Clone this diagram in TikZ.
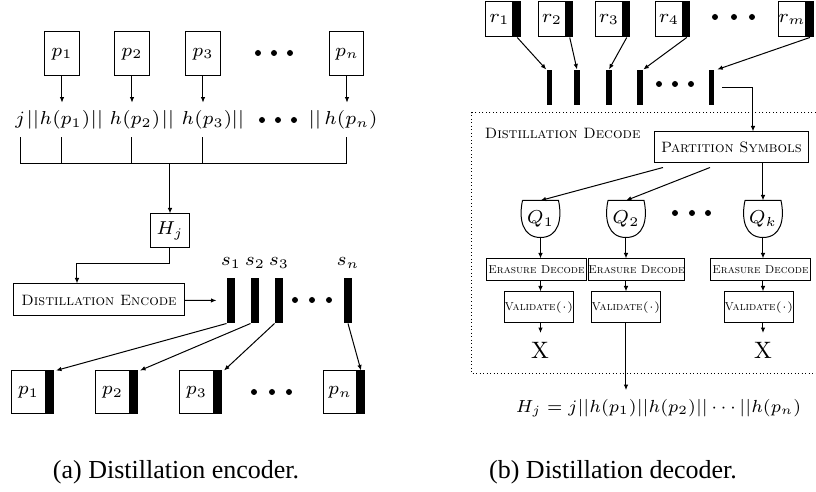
\RequirePackage{fix-cm}
\documentclass[tikz,border=0pt]{standalone}
\usepackage{fontspec}
\newfontfamily\capfont{Liberation Serif}
\usetikzlibrary{arrows.meta, positioning}

\newcommand{\cupoutline}[1]{%
	\draw (#1.north west) -- (#1.north east)
		.. controls ([xshift=1.6pt]#1.east) and (#1.south east) .. (#1.south)
		.. controls (#1.south west) and ([xshift=-1.6pt]#1.west) .. (#1.north west);}

\begin{document}
\begin{tikzpicture}[x=0.4pt, y=-0.4pt, >={Latex[length=2.2pt, width=1.8pt]},
	mth/.style={font=\fontsize{7.5}{9}\selectfont},
	pbox/.style={draw, inner sep=0pt, minimum width=13.6pt, minimum height=17.6pt, mth},
	row/.style={inner sep=3pt, mth},
	slot/.style={fill=black, inner sep=0pt, minimum width=3.2pt, minimum height=18pt},
	pkt/.style={draw, inner sep=0pt, minimum width=13.2pt, minimum height=17.2pt, mth},
	pktbar/.style={draw, fill=black, inner sep=0pt, minimum width=2.8pt, minimum height=17.2pt},
	rbox/.style={draw, inner sep=0pt, minimum width=10.8pt, minimum height=14pt, mth},
	rbar/.style={draw, fill=black, inner sep=0pt, minimum width=2.6pt, minimum height=14pt},
	rslot/.style={fill=black, inner sep=0pt, minimum width=2.2pt, minimum height=14pt},
	proc/.style 2 args={draw, inner sep=0pt, minimum width=#1, minimum height=#2},
	bigsc/.style={font=\fontsize{6}{7}\selectfont\scshape},
	smallsc/.style={font=\fontsize{4.6}{5}\selectfont\scshape},
	cup/.style={inner sep=0pt, minimum width=14pt, minimum height=14.4pt, mth}]
	\useasboundingbox (0,0) rectangle (816,492);

	% (a) encoder: packets, hashes and the bus
	\node[pbox] (p1) at (62,54) {$p_1$};
	\node[pbox] (p2) at (132,54) {$p_2$};
	\node[pbox] (p3) at (203,54) {$p_3$};
	\node[pbox] (pn) at (347,54) {$p_n$};
	\foreach \x in {258,274,290} \fill (\x,53) circle (1.2pt);

	\node[row] (j) at (20,120) {$j$};
	\node[row] (h1) at (65,120) {$h(p_1)$};
	\node[row] (h2) at (135,120) {$h(p_2)$};
	\node[row] (h3) at (207,120) {$h(p_3)$};
	\node[row] (hn) at (351,120) {$h(p_n)$};
	\foreach \x [count=\i] in {33,97,168,238,315}
		\node[row] (cat\i) at (\x,120) {$||$};
	\foreach \x in {262,278,294} \fill (\x,120) circle (1.2pt);

	\draw[->] (p1) -- (p1 |- h1.north);
	\draw[->] (p2) -- (p2 |- h2.north);
	\draw[->] (p3) -- (p3 |- h3.north);
	\draw[->] (pn) -- (pn |- hn.north);

	\coordinate (bus) at (170,164);
	\draw (j |- h1.south) |- (pn |- bus) -- (pn |- hn.south);
	\draw (p1 |- h1.south) -- (p1 |- bus);
	\draw (p2 |- h2.south) -- (p2 |- bus);
	\draw (p3 |- h3.south) -- (p3 |- bus);

	\node[proc={15.2pt}{13.6pt}, mth] (Hj) at (170,231) {$H_j$};
	\draw[->] (bus) -- (Hj);

	\node[proc={68pt}{12.8pt}, bigsc] (DE) at (99,300) {Distillation Encode};
	\draw[->] (Hj.south) -- ++(0,15) -| ([xshift=-8.8pt]DE.north);

	% symbols s_i
	\node[slot] (s1) at (231,300.5) {};
	\node[slot] (s2) at (255,300.5) {};
	\node[slot] (s3) at (279,300.5) {};
	\node[slot] (sn) at (348,300.5) {};
	\foreach \x in {295,312,329} \fill (\x,300) circle (1.2pt);
	\node[above=0pt of s1, mth] (s1lab) {$s_1$};
	\node[above=0pt of s2, mth] (s2lab) {$s_2$};
	\node[above=0pt of s3, mth] (s3lab) {$s_3$};
	\node[above=0pt of sn, mth] (snlab) {$s_n$};
	\draw[->, shorten >=4pt] (DE) -- (s1);

	% packets with their symbol
	\node[pkt] (q1) at (28.5,392.5) {$p_1$};
	\node[pkt] (q2) at (112.5,392.5) {$p_2$};
	\node[pkt] (q3) at (196.5,392.5) {$p_3$};
	\node[pkt] (qn) at (340,392.5) {$p_n$};
	\foreach \k in {1,2,3,n}
		\node[pktbar, right=0pt of q\k] (q\k b) {};
	\foreach \x in {254,272,289} \fill (\x,392) circle (1.2pt);

	\draw[->] (s1.south west) -- ([xshift=1pt]q1b.north east);
	\draw[->] (s2.south west) -- ([xshift=1pt]q2b.north east);
	\draw[->] (s3.south west) -- ([xshift=1pt]q3b.north east);
	\draw[->] (sn.south) -- (qnb.north);

	% (b) decoder: received packets
	\node[rbox] (r1) at (499.5,19.5) {$r_1$};
	\node[rbox] (r2) at (552,19.5) {$r_2$};
	\node[rbox] (r3) at (609,19.5) {$r_3$};
	\node[rbox] (r4) at (669,19.5) {$r_4$};
	\node[rbox] (rm) at (792,19.5) {$r_m$};
	\foreach \k in {1,2,3,4,m}
		\node[rbar, right=0pt of r\k] (r\k b) {};
	\foreach \x in {715,734,752} \fill (\x,17) circle (1.2pt);

	\node[rslot] (b1) at (549.5,87.5) {};
	\node[rslot] (b2) at (577,87.5) {};
	\node[rslot] (b3) at (609,87.5) {};
	\node[rslot] (b4) at (640,87.5) {};
	\node[rslot] (b5) at (711.5,87.5) {};
	\foreach \x in {659,675,691} \fill (\x,84) circle (1.2pt);

	\draw[->] (r1b.south) -- (b1.north west);
	\draw[->] (r2b.south) -- (b2.north);
	\draw[->] (r3b.south) -- (b3.north);
	\draw[->] (r4b.south) -- (b4.north east);
	\draw[->] (rmb.south) -- ([xshift=1pt]b5.north east);

	% decode block
	\draw[densely dotted] (816,113) -| (472,374) -- (816,374);
	\node[anchor=west, bigsc] (dd) at (476,133) {Distillation Decode};

	\node[proc={61.2pt}{12.4pt}, bigsc] (PS) at (731.5,147.5) {Partition Symbols};
	\draw[->] ([xshift=3pt]b5.east) -| ([xshift=8.6pt]PS.north);

	\node[cup] (Q1) at (540.5,219) {$Q_1$};
	\node[cup] (Q2) at (626,219) {$Q_2$};
	\node[cup] (Qk) at (763,219) {$Q_k$};
	\foreach \q in {Q1,Q2,Qk} \cupoutline{\q};
	\foreach \x in {675,692,708} \fill (\x,213) circle (1.2pt);

	\draw[->] ([xshift=-27.4pt, yshift=-1.6pt]PS.south) -- (Q1.north);
	\draw[->] ([xshift=-8.6pt, yshift=-1.6pt]PS.south) -- (Q2.north);
	\draw[->] (PS.south -| Qk) -- (Qk.north);

	\node[proc={39.6pt}{8.8pt}, smallsc] (ED1) at (536.5,270) {Erasure Decode};
	\node[proc={38pt}{8.8pt}, smallsc] (ED2) at (636.5,270) {Erasure Decode};
	\node[proc={39.6pt}{8.8pt}, smallsc] (EDk) at (760.5,270) {Erasure Decode};

	\node[proc={26.4pt}{12.4pt}, smallsc] (V1) at (539,307.5) {Validate$(\cdot)$};
	\node[proc={26.4pt}{12.4pt}, smallsc] (V2) at (626,307.5) {Validate$(\cdot)$};
	\node[proc={26.4pt}{12.4pt}, smallsc] (Vk) at (759,307.5) {Validate$(\cdot)$};

	\node[font=\fontsize{9.5}{11}\selectfont] (X1) at (540,350) {X};
	\node[font=\fontsize{9.5}{11}\selectfont] (Xk) at (763,350) {X};

	\draw[->] (Q1) -- (Q1 |- ED1.north);
	\draw[->] (Q2) -- (Q2 |- ED2.north);
	\draw[->] (Qk) -- (Qk |- EDk.north);
	\draw[->] (Q1 |- ED1.south) -- (Q1 |- V1.north);
	\draw[->] (Q2 |- ED2.south) -- (Q2 |- V2.north);
	\draw[->] (Qk |- EDk.south) -- (Qk |- Vk.north);
	\draw[->] (Q1 |- V1.south) -- (Q1 |- X1.north);
	\draw[->] (Qk |- Vk.south) -- (Qk |- Xk.north);

	\node[font=\fontsize{7}{9}\selectfont, anchor=east] (Hout) at (810,408)
		{$H_j = j||h(p_1)||h(p_2)||\cdots||h(p_n)$};
	\draw[->] (V2) -- (V2 |- Hout.north);

	% captions
	\node[font=\capfont\fontsize{10.4}{12}\selectfont] (capA) at (176,472) {(a) Distillation encoder.};
	\node[font=\capfont\fontsize{10.4}{12}\selectfont] (capB) at (613,472) {(b) Distillation decoder.};
\end{tikzpicture}
\end{document}
